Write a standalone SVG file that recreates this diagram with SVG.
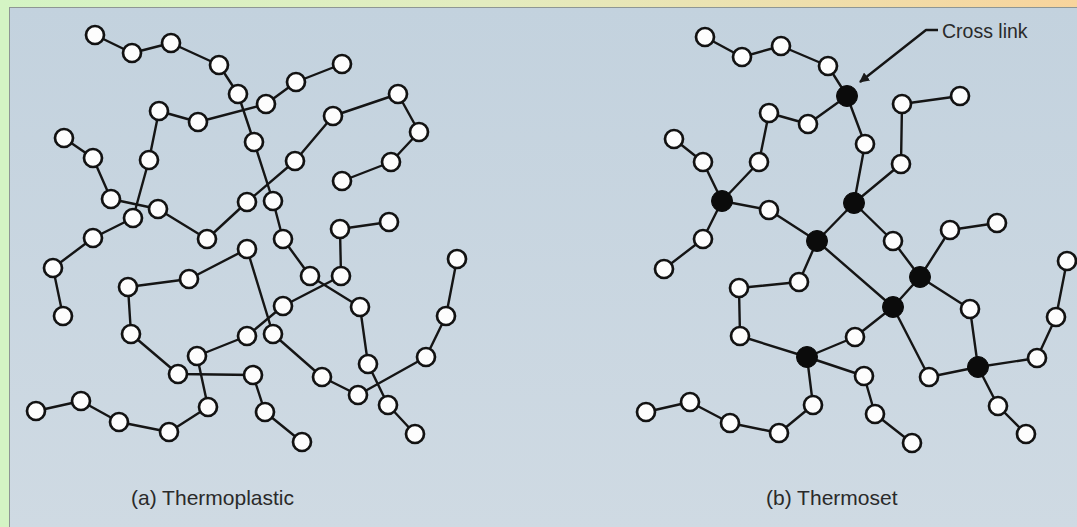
<svg xmlns="http://www.w3.org/2000/svg" width="1077" height="527" viewBox="0 0 1077 527">
<defs>
<linearGradient id="topg" x1="0" y1="0" x2="1" y2="0">
<stop offset="0" stop-color="#d4f4c4"/>
<stop offset="0.45" stop-color="#e3ecbf"/>
<stop offset="1" stop-color="#f8d49c"/>
</linearGradient>
<linearGradient id="pang" x1="0" y1="0" x2="0" y2="1">
<stop offset="0" stop-color="#c3d2de"/>
<stop offset="1" stop-color="#cfdae3"/>
</linearGradient>
<marker id="arr" viewBox="0 0 10 10" refX="9" refY="5" markerWidth="10" markerHeight="10" markerUnits="userSpaceOnUse" orient="auto">
<path d="M0,0 L10,5 L0,10 z" fill="#1a1a1a"/>
</marker>
<style>
.n{fill:#fdfdfd;stroke:#121212;stroke-width:2.7}
.x{fill:#0b0b0b;stroke:#0b0b0b;stroke-width:1}
.c{fill:none;stroke:#151515;stroke-width:2.4;stroke-linejoin:round}
.t{font-family:"Liberation Sans",Arial,Helvetica,sans-serif;fill:#2a2a2a}
</style>
</defs>
<rect x="0" y="0" width="1077" height="527" fill="#d4f4c4"/>
<rect x="0" y="0" width="1077" height="8" fill="url(#topg)"/>
<rect x="9.5" y="7.5" width="1070" height="522" fill="url(#pang)" stroke="#8e9694" stroke-width="1"/>

<g id="connectors">
<polyline class="c" points="95,35 132,53 171,43 219,65 238,94 254,142 273,201 283,239 310,276 360,307 368,364 388,405 415,434"/>
<polyline class="c" points="342,64 296,82 266,104 198,122 159,111 149,160 133,218 93,238 53,268 63,316"/>
<polyline class="c" points="64,138 93,158 111,199 158,209 207,239 247,202 295,161 333,116 398,94 419,132 391,162 342,181"/>
<polyline class="c" points="389,222 340,229 341,276 283,306 247,336 197,356 208,407 169,432 119,422 81,401 36,411"/>
<polyline class="c" points="302,442 265,412 253,375 178,374 131,334 128,287 189,279 247,249 273,334 322,377 358,395 426,357 446,316 457,259"/>

<polyline class="c" points="705,37 742,57 781,46 828,66 847,96 808,124 769,113 759,162 722,201 769,210 817,241 854,203"/>
<polyline class="c" points="847,96 865,144 854,203"/>
<polyline class="c" points="674,139 703,162 722,201 703,239 664,269"/>
<polyline class="c" points="854,203 901,164 902,104 960,96"/>
<polyline class="c" points="854,203 893,241 920,277 950,230 997,223"/>
<polyline class="c" points="920,277 893,307 817,241 799,282 739,288 740,336 807,357 855,337 893,307 929,377 978,367 1037,358 1056,317 1067,261"/>
<polyline class="c" points="920,277 970,309 978,367 998,406 1026,434"/>
<polyline class="c" points="807,357 864,376 875,414 912,443"/>
<polyline class="c" points="807,357 813,405 779,433 730,423 690,402 646,412"/>
<path class="c" d="M938,30 L926,30 L860,82" stroke-width="1.6" marker-end="url(#arr)"/>
</g>

<g id="thermoplastic">
<g id="a1"><circle class="n" cx="95" cy="35" r="9"/></g>
<g id="a2"><circle class="n" cx="132" cy="53" r="9"/></g>
<g id="a3"><circle class="n" cx="171" cy="43" r="9"/></g>
<g id="a4"><circle class="n" cx="219" cy="65" r="9"/></g>
<g id="a5"><circle class="n" cx="238" cy="94" r="9"/></g>
<g id="a6"><circle class="n" cx="254" cy="142" r="9"/></g>
<g id="a7"><circle class="n" cx="273" cy="201" r="9"/></g>
<g id="a8"><circle class="n" cx="283" cy="239" r="9"/></g>
<g id="a9"><circle class="n" cx="310" cy="276" r="9"/></g>
<g id="a10"><circle class="n" cx="360" cy="307" r="9"/></g>
<g id="a11"><circle class="n" cx="368" cy="364" r="9"/></g>
<g id="a12"><circle class="n" cx="388" cy="405" r="9"/></g>
<g id="a13"><circle class="n" cx="415" cy="434" r="9"/></g>
<g id="a14"><circle class="n" cx="159" cy="111" r="9"/></g>
<g id="a15"><circle class="n" cx="198" cy="122" r="9"/></g>
<g id="a16"><circle class="n" cx="266" cy="104" r="9"/></g>
<g id="a17"><circle class="n" cx="296" cy="82" r="9"/></g>
<g id="a18"><circle class="n" cx="342" cy="64" r="9"/></g>
<g id="a19"><circle class="n" cx="149" cy="160" r="9"/></g>
<g id="a20"><circle class="n" cx="133" cy="218" r="9"/></g>
<g id="a21"><circle class="n" cx="93" cy="238" r="9"/></g>
<g id="a22"><circle class="n" cx="53" cy="268" r="9"/></g>
<g id="a23"><circle class="n" cx="63" cy="316" r="9"/></g>
<g id="a24"><circle class="n" cx="64" cy="138" r="9"/></g>
<g id="a25"><circle class="n" cx="93" cy="158" r="9"/></g>
<g id="a26"><circle class="n" cx="111" cy="199" r="9"/></g>
<g id="a27"><circle class="n" cx="158" cy="209" r="9"/></g>
<g id="a28"><circle class="n" cx="207" cy="239" r="9"/></g>
<g id="a29"><circle class="n" cx="247" cy="202" r="9"/></g>
<g id="a30"><circle class="n" cx="295" cy="161" r="9"/></g>
<g id="a31"><circle class="n" cx="333" cy="116" r="9"/></g>
<g id="a32"><circle class="n" cx="398" cy="94" r="9"/></g>
<g id="a33"><circle class="n" cx="419" cy="132" r="9"/></g>
<g id="a34"><circle class="n" cx="391" cy="162" r="9"/></g>
<g id="a35"><circle class="n" cx="342" cy="181" r="9"/></g>
<g id="a36"><circle class="n" cx="389" cy="222" r="9"/></g>
<g id="a37"><circle class="n" cx="340" cy="229" r="9"/></g>
<g id="a38"><circle class="n" cx="341" cy="276" r="9"/></g>
<g id="a39"><circle class="n" cx="283" cy="306" r="9"/></g>
<g id="a40"><circle class="n" cx="247" cy="336" r="9"/></g>
<g id="a41"><circle class="n" cx="197" cy="356" r="9"/></g>
<g id="a42"><circle class="n" cx="208" cy="407" r="9"/></g>
<g id="a43"><circle class="n" cx="169" cy="432" r="9"/></g>
<g id="a44"><circle class="n" cx="119" cy="422" r="9"/></g>
<g id="a45"><circle class="n" cx="81" cy="401" r="9"/></g>
<g id="a46"><circle class="n" cx="36" cy="411" r="9"/></g>
<g id="a47"><circle class="n" cx="302" cy="442" r="9"/></g>
<g id="a48"><circle class="n" cx="265" cy="412" r="9"/></g>
<g id="a49"><circle class="n" cx="253" cy="375" r="9"/></g>
<g id="a50"><circle class="n" cx="178" cy="374" r="9"/></g>
<g id="a51"><circle class="n" cx="131" cy="334" r="9"/></g>
<g id="a52"><circle class="n" cx="128" cy="287" r="9"/></g>
<g id="a53"><circle class="n" cx="189" cy="279" r="9"/></g>
<g id="a54"><circle class="n" cx="247" cy="249" r="9"/></g>
<g id="a55"><circle class="n" cx="273" cy="334" r="9"/></g>
<g id="a56"><circle class="n" cx="322" cy="377" r="9"/></g>
<g id="a57"><circle class="n" cx="358" cy="395" r="9"/></g>
<g id="a58"><circle class="n" cx="426" cy="357" r="9"/></g>
<g id="a59"><circle class="n" cx="446" cy="316" r="9"/></g>
<g id="a60"><circle class="n" cx="457" cy="259" r="9"/></g>
</g>

<g id="thermoset">
<g id="b1"><circle class="n" cx="705" cy="37" r="9"/></g>
<g id="b2"><circle class="n" cx="742" cy="57" r="9"/></g>
<g id="b3"><circle class="n" cx="781" cy="46" r="9"/></g>
<g id="b4"><circle class="n" cx="828" cy="66" r="9"/></g>
<g id="b5"><circle class="n" cx="808" cy="124" r="9"/></g>
<g id="b6"><circle class="n" cx="769" cy="113" r="9"/></g>
<g id="b7"><circle class="n" cx="759" cy="162" r="9"/></g>
<g id="b8"><circle class="n" cx="674" cy="139" r="9"/></g>
<g id="b9"><circle class="n" cx="703" cy="162" r="9"/></g>
<g id="b10"><circle class="n" cx="769" cy="210" r="9"/></g>
<g id="b11"><circle class="n" cx="703" cy="239" r="9"/></g>
<g id="b12"><circle class="n" cx="664" cy="269" r="9"/></g>
<g id="b13"><circle class="n" cx="865" cy="144" r="9"/></g>
<g id="b14"><circle class="n" cx="901" cy="164" r="9"/></g>
<g id="b15"><circle class="n" cx="902" cy="104" r="9"/></g>
<g id="b16"><circle class="n" cx="960" cy="96" r="9"/></g>
<g id="b17"><circle class="n" cx="893" cy="241" r="9"/></g>
<g id="b18"><circle class="n" cx="950" cy="230" r="9"/></g>
<g id="b19"><circle class="n" cx="997" cy="223" r="9"/></g>
<g id="b20"><circle class="n" cx="970" cy="309" r="9"/></g>
<g id="b21"><circle class="n" cx="799" cy="282" r="9"/></g>
<g id="b22"><circle class="n" cx="739" cy="288" r="9"/></g>
<g id="b23"><circle class="n" cx="740" cy="336" r="9"/></g>
<g id="b24"><circle class="n" cx="855" cy="337" r="9"/></g>
<g id="b25"><circle class="n" cx="929" cy="377" r="9"/></g>
<g id="b26"><circle class="n" cx="864" cy="376" r="9"/></g>
<g id="b27"><circle class="n" cx="875" cy="414" r="9"/></g>
<g id="b28"><circle class="n" cx="912" cy="443" r="9"/></g>
<g id="b29"><circle class="n" cx="813" cy="405" r="9"/></g>
<g id="b30"><circle class="n" cx="779" cy="433" r="9"/></g>
<g id="b31"><circle class="n" cx="730" cy="423" r="9"/></g>
<g id="b32"><circle class="n" cx="690" cy="402" r="9"/></g>
<g id="b33"><circle class="n" cx="646" cy="412" r="9"/></g>
<g id="b34"><circle class="n" cx="1037" cy="358" r="9"/></g>
<g id="b35"><circle class="n" cx="1056" cy="317" r="9"/></g>
<g id="b36"><circle class="n" cx="1067" cy="261" r="9"/></g>
<g id="b37"><circle class="n" cx="998" cy="406" r="9"/></g>
<g id="b38"><circle class="n" cx="1026" cy="434" r="9"/></g>
<g id="x1"><circle class="x" cx="847" cy="96" r="10.5"/></g>
<g id="x2"><circle class="x" cx="722" cy="201" r="10.5"/></g>
<g id="x3"><circle class="x" cx="854" cy="203" r="10.5"/></g>
<g id="x4"><circle class="x" cx="817" cy="241" r="10.5"/></g>
<g id="x5"><circle class="x" cx="920" cy="277" r="10.5"/></g>
<g id="x6"><circle class="x" cx="893" cy="307" r="10.5"/></g>
<g id="x7"><circle class="x" cx="807" cy="357" r="10.5"/></g>
<g id="x8"><circle class="x" cx="978" cy="367" r="10.5"/></g>
</g>

<g id="labels">
<text class="t" x="942" y="38" font-size="19.5">Cross link</text>
<text class="t" x="131" y="505" font-size="21">(a) Thermoplastic</text>
<text class="t" x="766" y="505" font-size="21">(b) Thermoset</text>
</g>
</svg>
